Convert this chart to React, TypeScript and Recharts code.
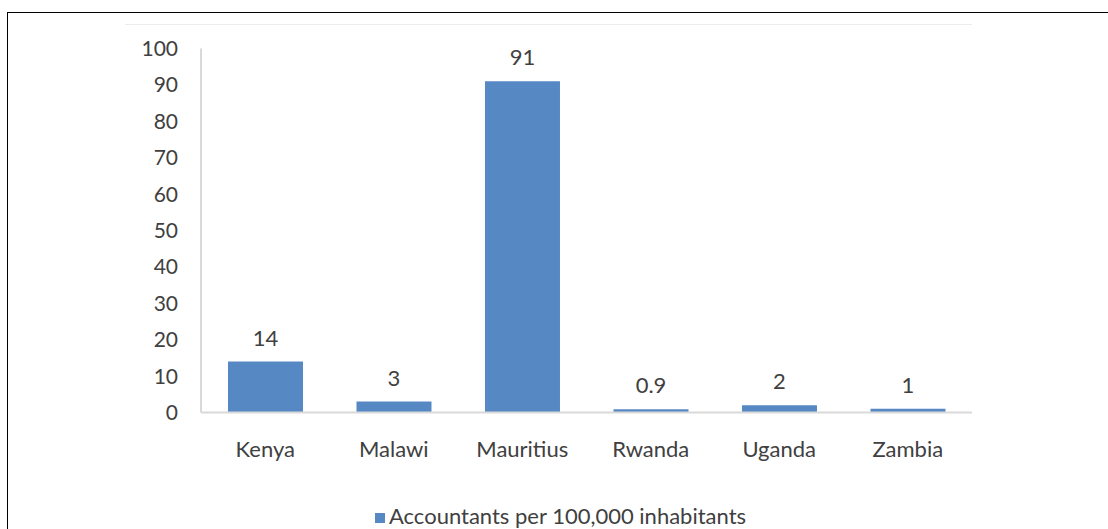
import React from 'react';
import { BarChart, Bar, XAxis, YAxis, Legend, LabelList } from 'recharts';

const countries = ['Kenya', 'Malawi', 'Mauritius', 'Rwanda', 'Uganda', 'Zambia'];
const accountants = [14, 3, 91, 0.9, 2, 1];
const yTicks = [0, 10, 20, 30, 40, 50, 60, 70, 80, 90, 100];
const seriesName = 'Accountants per 100,000 inhabitants';

const data = countries.map((c, i) => ({ country: c, value: accountants[i] }));

const FONT = 'Lato, "Open Sans", sans-serif';
const TEXT = '#404040';

export default function App() {
  return (
    <div
      style={{
        position: 'absolute',
        left: 0,
        top: 0,
        width: 1108,
        height: 529,
        overflow: 'hidden',
        background: '#fff',
        fontFamily: FONT,
      }}
    >
      <div
        style={{
          position: 'absolute',
          left: 6.5,
          top: 11.5,
          width: 1300,
          height: 700,
          borderTop: '1.5px solid #000',
          borderLeft: '1.5px solid #000',
        }}
      />
      <div
        style={{
          position: 'absolute',
          left: 125,
          top: 23.5,
          width: 847,
          height: 1,
          background: '#ececec',
        }}
      />
      <div style={{ position: 'absolute', left: 0, top: 0 }}>
        <BarChart
          width={1108}
          height={529}
          data={data}
          margin={{ top: 48.5, right: 136, bottom: 0, left: 141 }}
          barCategoryGap="21%"
        >
          <XAxis
            dataKey="country"
            height={89.5}
            axisLine={{ stroke: '#d9d9d9', strokeWidth: 2 }}
            tickLine={false}
            tickSize={6}
            tickMargin={23}
            tick={{ fill: TEXT, fontSize: 22, fontFamily: FONT }}
            interval={0}
          />
          <YAxis
            width={60}
            domain={[0, 100]}
            ticks={yTicks}
            interval={0}
            axisLine={{ stroke: '#d9d9d9', strokeWidth: 2 }}
            tickLine={false}
            tickSize={6}
            tickMargin={17}
            tick={{ fill: TEXT, fontSize: 21, fontFamily: FONT }}
          />
          <Legend
            verticalAlign="bottom"
            iconType="square"
            iconSize={10}
            wrapperStyle={{ fontFamily: FONT, fontSize: 22, color: TEXT, left: 150 }}
            formatter={(v) => <span style={{ color: TEXT }}>{v}</span>}
          />
          <Bar dataKey="value" name={seriesName} fill="#5689c4" isAnimationActive={false}>
            <LabelList
              dataKey="value"
              position="top"
              offset={16}
              style={{ fill: TEXT, fontSize: 22, fontFamily: FONT }}
            />
          </Bar>
        </BarChart>
      </div>
    </div>
  );
}
